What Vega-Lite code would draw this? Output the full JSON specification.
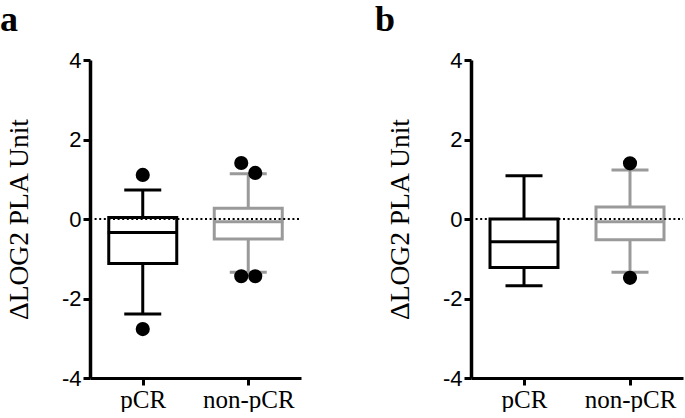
{
  "$schema": "https://vega.github.io/schema/vega-lite/v6.json",
  "padding": {"left": 0, "top": 2, "right": 0, "bottom": 0},
  "background": "white",
  "spacing": 72,
  "datasets": {
    "boxes": [
      {"panel": "a", "group": "pCR", "lower": -2.39, "q1": -1.12, "median": -0.34, "q3": 0.04, "upper": 0.73},
      {"panel": "a", "group": "non-pCR", "lower": -1.34, "q1": -0.50, "median": -0.07, "q3": 0.27, "upper": 1.14},
      {"panel": "b", "group": "pCR", "lower": -1.68, "q1": -1.22, "median": -0.57, "q3": 0.0, "upper": 1.09},
      {"panel": "b", "group": "non-pCR", "lower": -1.34, "q1": -0.52, "median": -0.07, "q3": 0.30, "upper": 1.23}
    ],
    "outliers": [
      {"panel": "a", "group": "pCR", "value": 1.11, "jit": "C"},
      {"panel": "a", "group": "pCR", "value": -2.77, "jit": "C"},
      {"panel": "a", "group": "non-pCR", "value": 1.41, "jit": "L"},
      {"panel": "a", "group": "non-pCR", "value": 1.16, "jit": "R"},
      {"panel": "a", "group": "non-pCR", "value": -1.44, "jit": "L"},
      {"panel": "a", "group": "non-pCR", "value": -1.44, "jit": "R"},
      {"panel": "b", "group": "non-pCR", "value": 1.40, "jit": "C"},
      {"panel": "b", "group": "non-pCR", "value": -1.48, "jit": "C"}
    ]
  },
  "config": {
    "view": {"stroke": null},
    "axis": {"grid": false, "domainColor": "black", "tickColor": "black", "labelColor": "black", "titleColor": "black"}
  },
  "hconcat": [
    {
      "width": 211, "height": 318,
      "title": {"text": "a", "anchor": "start", "frame": "group", "font": "Liberation Serif", "fontSize": 36, "fontWeight": "bold", "color": "black", "dx": -90, "offset": 10},
      "encoding": {
        "x": {"field": "group", "type": "nominal", "sort": ["pCR", "non-pCR"],
              "scale": {"type": "point", "padding": 0.5},
              "axis": {"title": null, "labelAngle": 0, "labelFont": "Liberation Serif", "labelFontSize": 25, "domainWidth": 3, "tickWidth": 3, "tickSize": 7, "labelPadding": 2}},
        "color": {"field": "group", "type": "nominal", "scale": {"domain": ["pCR", "non-pCR"], "range": ["black", "#9a9a9a"]}, "legend": null}
      },
      "layer": [
        {"data": {"name": "boxes"}, "transform": [{"filter": "datum.panel === 'a'"}],
         "mark": {"type": "rule", "strokeWidth": 3},
         "encoding": {
           "y": {"field": "lower", "type": "quantitative", "scale": {"domain": [-4, 4], "nice": false, "zero": false},
                 "axis": {"title": "ΔLOG2 PLA Unit", "values": [-4, -2, 0, 2, 4], "labelExpr": "datum.value < 0 ? '-' + abs(datum.value) : '' + datum.value", "titleFont": "Liberation Serif", "titleFontSize": 27.5, "titleFontWeight": "normal", "titlePadding": 28, "labelFont": "Liberation Sans", "labelFontSize": 22, "labelPadding": 2, "domainWidth": 3.5, "tickWidth": 3, "tickSize": 7}},
           "y2": {"field": "upper"},
           "stroke": {"field": "group", "type": "nominal", "scale": {"domain": ["pCR", "non-pCR"], "range": ["black", "#9a9a9a"]}, "legend": null}
         }},
        {"data": {"name": "boxes"}, "transform": [{"filter": "datum.panel === 'a'"}],
         "mark": {"type": "bar", "size": 68, "fill": "white", "strokeWidth": 3},
         "encoding": {
           "y": {"field": "q1", "type": "quantitative"}, "y2": {"field": "q3"},
           "stroke": {"field": "group", "type": "nominal", "legend": null},
           "color": {"value": "white"}
         }},
        {"data": {"name": "boxes"}, "transform": [{"filter": "datum.panel === 'a'"}],
         "mark": {"type": "tick", "size": 70, "thickness": 3, "opacity": 1},
         "encoding": {"y": {"field": "median", "type": "quantitative"}}},
        {"data": {"name": "boxes"}, "transform": [{"filter": "datum.panel === 'a'"}],
         "mark": {"type": "tick", "size": 37, "thickness": 3, "opacity": 1},
         "encoding": {"y": {"field": "lower", "type": "quantitative"}}},
        {"data": {"name": "boxes"}, "transform": [{"filter": "datum.panel === 'a'"}],
         "mark": {"type": "tick", "size": 37, "thickness": 3, "opacity": 1},
         "encoding": {"y": {"field": "upper", "type": "quantitative"}}},
        {"data": {"values": [{}]},
         "mark": {"type": "rule", "strokeDash": [2, 2.6], "strokeWidth": 2.2, "color": "black"},
         "encoding": {"y": {"datum": 0}, "x": {"value": 0}, "x2": {"value": 211}, "color": {"value": "black"}}},
        {"data": {"name": "outliers"}, "transform": [{"filter": "datum.panel === 'a'"}],
         "mark": {"type": "point", "filled": true, "size": 200, "opacity": 1},
         "encoding": {
           "y": {"field": "value", "type": "quantitative"},
           "xOffset": {"field": "jit", "type": "nominal", "scale": {"type": "point", "domain": ["L", "C", "R"], "range": [-7, 7], "padding": 0}},
           "color": {"value": "black"}
         }}
      ]
    },
    {
      "width": 212, "height": 318,
      "title": {"text": "b", "anchor": "start", "frame": "group", "font": "Liberation Serif", "fontSize": 36, "fontWeight": "bold", "color": "black", "dx": -96, "offset": 10},
      "encoding": {
        "x": {"field": "group", "type": "nominal", "sort": ["pCR", "non-pCR"],
              "scale": {"type": "point", "padding": 0.5},
              "axis": {"title": null, "labelAngle": 0, "labelFont": "Liberation Serif", "labelFontSize": 25, "domainWidth": 3, "tickWidth": 3, "tickSize": 7, "labelPadding": 2}},
        "color": {"field": "group", "type": "nominal", "scale": {"domain": ["pCR", "non-pCR"], "range": ["black", "#9a9a9a"]}, "legend": null}
      },
      "layer": [
        {"data": {"name": "boxes"}, "transform": [{"filter": "datum.panel === 'b'"}],
         "mark": {"type": "rule", "strokeWidth": 3},
         "encoding": {
           "y": {"field": "lower", "type": "quantitative", "scale": {"domain": [-4, 4], "nice": false, "zero": false},
                 "axis": {"title": "ΔLOG2 PLA Unit", "values": [-4, -2, 0, 2, 4], "labelExpr": "datum.value < 0 ? '-' + abs(datum.value) : '' + datum.value", "titleFont": "Liberation Serif", "titleFontSize": 27.5, "titleFontWeight": "normal", "titlePadding": 28, "labelFont": "Liberation Sans", "labelFontSize": 22, "labelPadding": 2, "domainWidth": 3.5, "tickWidth": 3, "tickSize": 7}},
           "y2": {"field": "upper"},
           "stroke": {"field": "group", "type": "nominal", "scale": {"domain": ["pCR", "non-pCR"], "range": ["black", "#9a9a9a"]}, "legend": null}
         }},
        {"data": {"name": "boxes"}, "transform": [{"filter": "datum.panel === 'b'"}],
         "mark": {"type": "bar", "size": 68, "fill": "white", "strokeWidth": 3},
         "encoding": {
           "y": {"field": "q1", "type": "quantitative"}, "y2": {"field": "q3"},
           "stroke": {"field": "group", "type": "nominal", "legend": null},
           "color": {"value": "white"}
         }},
        {"data": {"name": "boxes"}, "transform": [{"filter": "datum.panel === 'b'"}],
         "mark": {"type": "tick", "size": 70, "thickness": 3, "opacity": 1},
         "encoding": {"y": {"field": "median", "type": "quantitative"}}},
        {"data": {"name": "boxes"}, "transform": [{"filter": "datum.panel === 'b'"}],
         "mark": {"type": "tick", "size": 37, "thickness": 3, "opacity": 1},
         "encoding": {"y": {"field": "lower", "type": "quantitative"}}},
        {"data": {"name": "boxes"}, "transform": [{"filter": "datum.panel === 'b'"}],
         "mark": {"type": "tick", "size": 37, "thickness": 3, "opacity": 1},
         "encoding": {"y": {"field": "upper", "type": "quantitative"}}},
        {"data": {"values": [{}]},
         "mark": {"type": "rule", "strokeDash": [2, 2.6], "strokeWidth": 2.2, "color": "black"},
         "encoding": {"y": {"datum": 0}, "x": {"value": 0}, "x2": {"value": 212}, "color": {"value": "black"}}},
        {"data": {"name": "outliers"}, "transform": [{"filter": "datum.panel === 'b'"}],
         "mark": {"type": "point", "filled": true, "size": 200, "opacity": 1},
         "encoding": {
           "y": {"field": "value", "type": "quantitative"},
           "xOffset": {"field": "jit", "type": "nominal", "scale": {"type": "point", "domain": ["L", "C", "R"], "range": [-7, 7], "padding": 0}},
           "color": {"value": "black"}
         }}
      ]
    }
  ]
}
